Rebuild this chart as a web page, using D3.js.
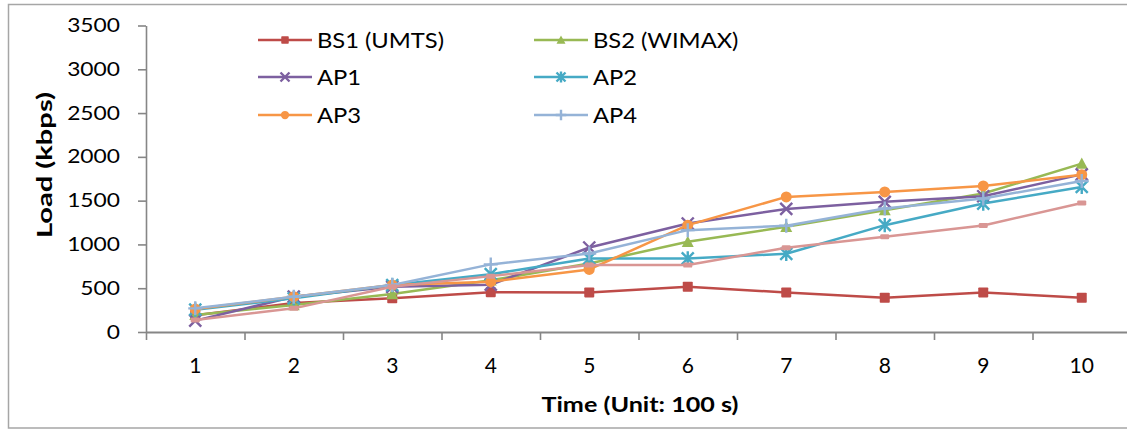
<!DOCTYPE html>
<html>
<head>
<meta charset="utf-8">
<script src="https://cdn.jsdelivr.net/npm/d3@7"></script>
<style>
  html, body { margin: 0; padding: 0; background: #fff; }
  svg { display: block; font-family: Lato, "Open Sans", sans-serif; }
</style>
</head>
<body>
<svg id="chart" width="1127" height="430"></svg>
<script>
// Time steps (unit: 100 s)
const categories = ["1", "2", "3", "4", "5", "6", "7", "8", "9", "10"];
const yTicks = [0, 500, 1000, 1500, 2000, 2500, 3000, 3500];

// Load per network element (kbps)
const bs1 = [190, 330, 385, 455, 452, 516, 452, 391, 452, 391];
const bs2 = [194, 308, 433, 590, 783, 1030, 1201, 1391, 1581, 1923];
const ap1 = [130, 403, 516, 540, 965, 1239, 1405, 1486, 1550, 1800];
const ap2 = [255, 384, 536, 660, 840, 840, 893, 1220, 1467, 1657];
const ap3 = [262, 403, 536, 574, 714, 1220, 1543, 1600, 1668, 1797];
const ap4 = [270, 403, 536, 772, 897, 1163, 1214, 1410, 1524, 1725];
const series7 = [137, 270, 516, 638, 764, 764, 963, 1087, 1216, 1474];

const seriesNames = ["BS1 (UMTS)", "BS2 (WIMAX)", "AP1", "AP2", "AP3", "AP4", ""];

const series = [
  { name: seriesNames[0], values: bs1, color: "#be4b48", marker: "square", legend: [0, 0] },
  { name: seriesNames[1], values: bs2, color: "#98b954", marker: "triangle", legend: [1, 0] },
  { name: seriesNames[2], values: ap1, color: "#7d60a0", marker: "times", legend: [0, 1] },
  { name: seriesNames[3], values: ap2, color: "#46aac5", marker: "asterisk", legend: [1, 1] },
  { name: seriesNames[4], values: ap3, color: "#f79646", marker: "circle", legend: [0, 2] },
  { name: seriesNames[5], values: ap4, color: "#95b3d7", marker: "plus", legend: [1, 2] },
  { name: seriesNames[6], values: series7, color: "#d99694", marker: "dash", legend: null }
];

const svg = d3.select("#chart");
const axisColor = "#868686";

// outer chart frame
svg.append("rect")
  .attr("x", 8.5).attr("y", 4.5)
  .attr("width", 1140).attr("height", 423.5)
  .attr("fill", "#fff")
  .attr("stroke", "#a6a6a6").attr("stroke-width", 1.5);

const plotLeft = 146, plotRight = 1131, plotTop = 25.5, plotBottom = 332;

const x = d3.scaleBand().domain(categories).range([plotLeft, plotRight]);
const y = d3.scaleLinear().domain([0, 3500]).range([plotBottom, plotTop]);
const xEdge = d3.scaleLinear().domain([0, categories.length]).range([plotLeft, plotRight]);

// y axis
const yAxis = svg.append("g")
  .attr("transform", `translate(${plotLeft},0)`)
  .call(d3.axisLeft(y).tickValues(yTicks).tickFormat(d3.format("d"))
    .tickSize(8).tickSizeOuter(0).tickPadding(18));
yAxis.select(".domain").attr("stroke", axisColor).attr("stroke-width", 1.6);
yAxis.selectAll(".tick line").attr("stroke", axisColor).attr("stroke-width", 1.6);
yAxis.selectAll(".tick text")
  .attr("font-family", "Lato, sans-serif")
  .attr("font-size", 19)
  .attr("fill", "#000")
  .attr("transform", "scale(1.2,1)")
  .attr("x", -26 / 1.2);

// x axis: tick marks between categories
const xTickAxis = svg.append("g")
  .attr("transform", `translate(0,${plotBottom})`)
  .call(d3.axisBottom(xEdge).tickValues(d3.range(0, categories.length + 1)).tickSize(8).tickSizeOuter(0).tickFormat(""));
xTickAxis.select(".domain").attr("stroke", axisColor).attr("stroke-width", 1.8);
xTickAxis.selectAll(".tick line").attr("stroke", axisColor).attr("stroke-width", 1.6);

// x axis: category labels centred in bands
const xLabelAxis = svg.append("g")
  .attr("transform", `translate(0,${plotBottom})`)
  .call(d3.axisBottom(x).tickSize(0).tickPadding(26));
xLabelAxis.select(".domain").remove();
xLabelAxis.selectAll(".tick text")
  .attr("font-family", "Lato, sans-serif")
  .attr("font-size", 21)
  .attr("fill", "#000");

// axis titles
svg.append("text")
  .attr("transform", "translate(52,165) rotate(-90)")
  .attr("text-anchor", "middle")
  .attr("font-size", 20).attr("font-weight", "bold")
  .attr("textLength", 146).attr("lengthAdjust", "spacingAndGlyphs")
  .text("Load (kbps)");

svg.append("text")
  .attr("x", 640).attr("y", 412)
  .attr("text-anchor", "middle")
  .attr("font-size", 20).attr("font-weight", "bold")
  .attr("textLength", 197).attr("lengthAdjust", "spacingAndGlyphs")
  .text("Time (Unit: 100 s)");

// marker drawing
function drawMarker(g, type, color, scale) {
  const s = scale || 1;
  if (type === "square") {
    const h = 5 * s;
    g.append("rect").attr("x", -h).attr("y", -h).attr("width", 2 * h).attr("height", 2 * h)
      .attr("rx", 0.8).attr("fill", color);
  } else if (type === "triangle") {
    const h = 6 * s;
    g.append("path").attr("d", `M0,${-h}L${h},${h * 0.85}L${-h},${h * 0.85}Z`).attr("fill", color);
  } else if (type === "circle") {
    g.append("circle").attr("r", 5.5 * s).attr("fill", color);
  } else if (type === "times") {
    const h = 6 * s;
    g.append("path").attr("d", `M${-h},${-h}L${h},${h}M${h},${-h}L${-h},${h}`)
      .attr("stroke", color).attr("stroke-width", 2.4).attr("fill", "none");
  } else if (type === "asterisk") {
    const h = 6 * s;
    g.append("path").attr("d", `M${-h},${-h}L${h},${h}M${h},${-h}L${-h},${h}M0,${-h * 1.2}L0,${h * 1.2}`)
      .attr("stroke", color).attr("stroke-width", 2.4).attr("fill", "none");
  } else if (type === "plus") {
    const h = 7 * s;
    g.append("path").attr("d", `M${-h},0L${h},0M0,${-h}L0,${h}`)
      .attr("stroke", color).attr("stroke-width", 2.4).attr("fill", "none");
  } else if (type === "dash") {
    g.append("rect").attr("x", -4.5 * s).attr("y", -2.5 * s).attr("width", 9 * s).attr("height", 5 * s)
      .attr("rx", 1.2).attr("fill", color);
  }
}

const line = d3.line()
  .x((d, i) => x(categories[i]) + x.bandwidth() / 2)
  .y(d => y(d));

// series lines and markers
const seriesG = svg.append("g");
series.forEach(s => {
  const g = seriesG.append("g");
  g.append("path")
    .datum(s.values)
    .attr("d", line)
    .attr("fill", "none")
    .attr("stroke", s.color)
    .attr("stroke-width", 2.5)
    .attr("stroke-linejoin", "round");
  s.values.forEach((v, i) => {
    const mg = g.append("g")
      .attr("transform", `translate(${x(categories[i]) + x.bandwidth() / 2},${y(v)})`);
    drawMarker(mg, s.marker, s.color, 1);
  });
});

// legend
const legendCols = [258, 534];
const legendRows = [40, 77, 115];
const legend = svg.append("g");
series.filter(s => s.legend).forEach(s => {
  const lx = legendCols[s.legend[0]], ly = legendRows[s.legend[1]];
  const g = legend.append("g").attr("transform", `translate(${lx},${ly})`);
  g.append("line").attr("x1", 0).attr("x2", 54).attr("y1", 0).attr("y2", 0)
    .attr("stroke", s.color).attr("stroke-width", 2.4);
  drawMarker(g.append("g").attr("transform", "translate(27,0)"), s.marker, s.color, 0.75);
  g.append("text")
    .attr("x", 54.6).attr("y", 0).attr("dy", "0.36em")
    .attr("font-size", 22)
    .attr("fill", "#000")
    .attr("transform", "scale(1.08,1)")
    .text(s.name);
});
</script>
</body>
</html>
